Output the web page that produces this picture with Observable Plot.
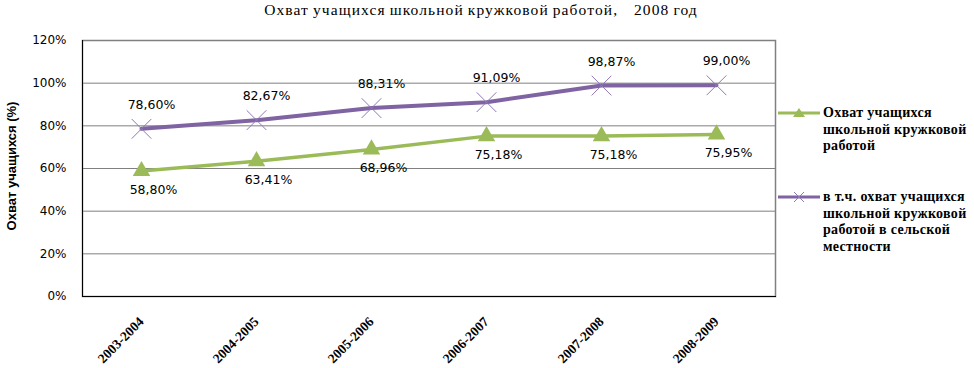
<!DOCTYPE html>
<html><head><meta charset="utf-8">
<script src="https://cdn.jsdelivr.net/npm/d3@7"></script>
<script src="https://cdn.jsdelivr.net/npm/@observablehq/plot@0.6"></script>
<style>
body{margin:0;background:#fff;}
#wrap{position:relative;width:974px;height:368px;overflow:hidden;}
#title{position:absolute;left:0;width:962px;top:1px;text-align:center;font:15.5px "Liberation Serif",serif;letter-spacing:1.1px;word-spacing:-1px;white-space:pre;color:#000;}
#ylab{position:absolute;left:11px;top:166px;transform:translate(-50%,-50%) rotate(-90deg);font:bold 13px "Liberation Sans",sans-serif;white-space:nowrap;color:#000;}
.leg{position:absolute;left:778px;font:bold 14px "Liberation Serif",serif;line-height:16.5px;color:#000;letter-spacing:0.3px;}
.leg svg{position:absolute;left:0;}
.leg div{margin-left:45px;white-space:nowrap;}
</style></head><body>
<div id="wrap">
<div id="title">Охват учащихся школьной кружковой работой,    2008 год</div>
<div id="ylab">Охват учащихся (%)</div>
</div>
<script>
const years = ["2003-2004", "2004-2005", "2005-2006", "2006-2007", "2007-2008", "2008-2009"];
const totalCoverage = [58.80, 63.41, 68.96, 75.18, 75.18, 75.95];
const ruralCoverage = [78.60, 82.67, 88.31, 91.09, 98.87, 99.00];
const yTicks = [0, 20, 40, 60, 80, 100, 120];
const seriesNames = ["Охват учащихся школьной кружковой работой", "в т.ч. охват учащихся школьной кружковой работой в сельской местности"];
const legendLines = [["Охват учащихся", "школьной кружковой", "работой"], ["в т.ч. охват учащихся", "школьной кружковой", "работой в сельской", "местности"]];
const colors = ["#9BBB59", "#7F63A2"];

const fmt = v => v.toFixed(2).replace(".", ",") + "%";
const total = years.map((y, i) => ({year: y, value: totalCoverage[i]}));
const rural = years.map((y, i) => ({year: y, value: ruralCoverage[i]}));

const chart = Plot.plot({
  width: 974, height: 368,
  marginLeft: 82, marginRight: 199, marginTop: 40, marginBottom: 72,
  style: {background: "transparent", overflow: "visible"},
  x: {type: "point", domain: years, padding: 0.5},
  y: {domain: [0, 120]},
  marks: [
    Plot.gridY(yTicks, {stroke: "#808080", strokeOpacity: 1, strokeWidth: 1}),
    Plot.frame({stroke: "#808080", strokeWidth: 1.5}),
    Plot.frame({anchor: "left", stroke: "#000"}),
    Plot.frame({anchor: "bottom", stroke: "#000"}),
    Plot.axisY(yTicks, {tickSize: 0, tickPadding: 16, tickFormat: d => d + "%", fontFamily: "DejaVu Sans", fontSize: 12, label: null, fill: "#000"}),
    Plot.axisX({tickSize: 0, tickPadding: 23, tickRotate: -45, fontFamily: "Liberation Serif", fontWeight: "bold", fontSize: 13.5, label: null, fill: "#000"}),
    Plot.line(total, {x: "year", y: "value", stroke: colors[0], strokeWidth: 3.5}),
    Plot.line(rural, {x: "year", y: "value", stroke: colors[1], strokeWidth: 4}),
    Plot.dot(total, {x: "year", y: "value", symbol: "triangle", r: 6.5, fill: colors[0], stroke: "none"}),
    Plot.dot(rural, {x: "year", y: "value", symbol: "times", r: 9, stroke: "#8E79B6", strokeWidth: 1}),
    Plot.text(rural, {x: "year", y: "value", text: d => fmt(d.value), dx: 10, dy: -24, fontFamily: "DejaVu Sans", fontSize: 12.5, fill: "#000"}),
    Plot.text(total, {x: "year", y: "value", text: d => fmt(d.value), dx: 12, dy: 19, fontFamily: "DejaVu Sans", fontSize: 12.5, fill: "#000"})
  ]
});
const wrap = document.getElementById("wrap");
wrap.prepend(chart);

const legTops = [105, 189];
legendLines.forEach((lines, i) => {
  const d = document.createElement("div");
  d.className = "leg";
  d.style.top = legTops[i] + "px";
  d.title = seriesNames[i];
  const sym = i === 0
    ? `<path d="M21,3 L27,12 L15,12 Z" fill="${colors[0]}"/>`
    : `<path d="M16,3 L26,13 M26,3 L16,13" stroke="#8E79B6" stroke-width="1" fill="none"/>`;
  d.innerHTML = `<svg width="42" height="16" style="top:0"><line x1="0" x2="42" y1="8" y2="8" stroke="${colors[i]}" stroke-width="3"/>${sym}</svg>` +
    lines.map(l => `<div>${l}</div>`).join("");
  wrap.appendChild(d);
});
</script>
</body></html>
